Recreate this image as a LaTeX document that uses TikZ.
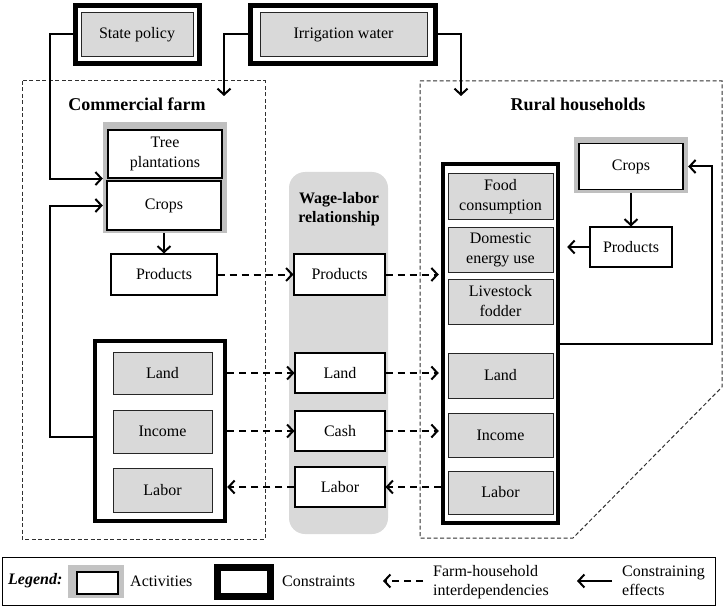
\documentclass[tikz,border=0pt]{standalone}
\usepackage{fontspec}
\setmainfont{Liberation Serif}
\usetikzlibrary{arrows.meta}
\definecolor{framegrey}{HTML}{BFBFBF}
\definecolor{fillgrey}{HTML}{D9D9D9}
\definecolor{dashgrey}{HTML}{303030}
\begin{document}
\begin{tikzpicture}[x=1pt,y=-1pt,font=\fontsize{16}{20}\selectfont,
  box/.style={rectangle, inner sep=0pt, align=center},
  act/.style={box, draw=black, line width=1.1pt, fill=white},
  res/.style={box, draw=black!85, line width=1pt, fill=fillgrey},
  cons/.style={box, draw=black, line width=4.5pt, fill=white},
  frame/.style={box, fill=framegrey},
  area/.style={draw=dashgrey, line width=1pt, dash pattern=on 4pt off 2.5pt},
  ce/.style={draw, line width=2pt, -{Straight Barb[length=6pt,width=13pt,line width=2pt]}},
  fh/.style={draw, line width=2pt, dash pattern=on 7pt off 5pt, -{Straight Barb[length=6pt,width=13pt,line width=2pt]}},
  title/.style={font=\fontsize{18}{21}\selectfont\bfseries}]
\useasboundingbox (0,0) rectangle (723,607);

% areas
\draw[area] (22,81) rectangle (265,539);
\draw[area] (420,81) -- (722,81) -- (722,387) -- (573,538) -- (420,538) -- cycle;
\node[title] (tcf) at (137,104) {Commercial farm};
\node[title] (trh) at (578,104) {Rural households};

% wage-labor column
\node[box, fill=fillgrey, rounded corners=16pt, minimum width=99pt, minimum height=362pt] (wcol) at (338.5,353) {};
\node[box, font=\fontsize{16}{19}\selectfont\bfseries] (wtitle) at (339,209) {Wage-labor\\relationship};

% top constraints
\node[cons, line width=5pt, minimum width=124pt, minimum height=58pt] (spo) at (137.5,34.5) {};
\node[res, minimum width=112pt, minimum height=44pt] (spol) at (137,35) {State policy};
\node[cons, line width=5pt, minimum width=185pt, minimum height=58pt] (irro) at (343,34.5) {};
\node[res, minimum width=167pt, minimum height=44pt] (irr) at (343.5,35) {Irrigation water};

% commercial farm
\node[frame, minimum width=124pt, minimum height=111pt] (grpL) at (165,177.5) {};
\node[act, minimum width=114pt, minimum height=48pt] (tree) at (165,154) {Tree\\plantations};
\node[act, minimum width=114pt, minimum height=49pt] (crops) at (164,205.5) {Crops};
\node[act, minimum width=106pt, minimum height=41pt] (prodL) at (164,274.5) {Products};
\node[cons, minimum width=130pt, minimum height=180pt] (ccons) at (160,431) {};
\node[res, minimum width=99pt, minimum height=42pt] (cland) at (162.5,373) {Land};
\node[res, minimum width=99pt, minimum height=43pt] (cinc) at (162.5,431.5) {Income};
\node[res, minimum width=99pt, minimum height=44pt] (clab) at (162.5,490) {Labor};

% wage-labor boxes
\node[act, minimum width=91pt, minimum height=41pt] (wprod) at (339.5,274.5) {Products};
\node[act, minimum width=90pt, minimum height=40pt] (wland) at (340,373) {Land};
\node[act, minimum width=90pt, minimum height=40pt] (wcash) at (340,431) {Cash};
\node[act, minimum width=90pt, minimum height=40pt] (wlab) at (340,487) {Labor};

% rural households
\node[cons, minimum width=115pt, minimum height=359pt] (rcons) at (500.5,343.5) {};
\node[res, minimum width=105pt, minimum height=45pt] (rfood) at (500.5,196.5) {Food\\consumption};
\node[res, minimum width=105pt, minimum height=45pt] (rener) at (500.5,249.5) {Domestic\\energy use};
\node[res, minimum width=105pt, minimum height=45pt] (rfod) at (500.5,301.5) {Livestock\\fodder};
\node[res, minimum width=105pt, minimum height=45pt] (rland) at (500.5,375.5) {Land};
\node[res, minimum width=105pt, minimum height=44pt] (rinc) at (500.5,435) {Income};
\node[res, minimum width=105pt, minimum height=43pt] (rlab) at (500.5,492.5) {Labor};
\node[frame, minimum width=114pt, minimum height=56pt] (rgrp) at (631,165) {};
\node[act, minimum width=104pt, minimum height=46pt] (rcrops) at (631,166.5) {Crops};
\node[act, minimum width=82pt, minimum height=40pt] (rprod) at (631,247) {Products};

% constraining effects
\draw[ce] (spo.west) -- (50,34.5) |- (grpL.west |- tree.south);
\draw[ce] ([yshift=-6pt]ccons.west) -- (50,437) |- (grpL.west |- crops.center);
\coordinate (irrL) at (224,96);
\coordinate (irrR) at (461,96);
\draw[ce] (irro.west) -| (irrL);
\draw[ce] (irro.east) -| (irrR);
\draw[ce] (grpL.south -| prodL.north) -- (prodL.north);
\draw[ce] (rgrp.south) -- (rprod.north);
\draw[ce, shorten >=7pt] (rprod.west) -- (rprod.west -| rcons.east);
\draw[ce] (rcons.east) -- (712,343.5) |- (rgrp.east |- rcrops.center);

% farm-household interdependencies
\draw[fh] (prodL.east) -- (wprod.west);
\draw[fh, shorten >=2pt] (wprod.east) -- (wprod.east -| rcons.west);
\draw[fh] (ccons.east |- wland.west) -- (wland.west);
\draw[fh, shorten >=2pt] (wland.east) -- (wland.east -| rcons.west);
\draw[fh] (ccons.east |- wcash.west) -- (wcash.west);
\draw[fh, shorten >=2pt] (wcash.east) -- (wcash.east -| rcons.west);
\draw[fh] (rcons.west |- wlab.east) -- (wlab.east);
\draw[fh] (wlab.west) -- (wlab.west -| ccons.east);

% legend
\node[box, draw=black, line width=1.5pt, minimum width=713pt, minimum height=48pt] (legend) at (359,581.5) {};
\node[anchor=west, inner sep=0pt, font=\fontsize{16}{20}\selectfont\bfseries\itshape] (lgt) at (8,581) {Legend:};
\node[frame, fill=fillgrey!90!black, minimum width=56pt, minimum height=33pt] (lgact) at (96,581.5) {};
\node[act, minimum width=41pt, minimum height=22pt] (lgacti) at (97.5,583) {};
\node[anchor=west, inner sep=0pt] (lgactt) at (130,581) {Activities};
\node[cons, line width=7pt, minimum width=53pt, minimum height=29pt] (lgcons) at (244,582) {};
\node[anchor=west, inner sep=0pt] (lgconst) at (282,581) {Constraints};
\coordinate (lgd1) at (423,581);
\coordinate (lgd2) at (383,581);
\draw[fh] (lgd1) -- (lgd2);
\node[anchor=west, inner sep=0pt, align=left, font=\fontsize{16}{19}\selectfont] (lgfh) at (433,582) {Farm-household\\interdependencies};
\coordinate (lgc1) at (612,581);
\coordinate (lgc2) at (577,581);
\draw[ce] (lgc1) -- (lgc2);
\node[anchor=west, inner sep=0pt, align=left, font=\fontsize{16}{19}\selectfont] (lgce) at (622,581) {Constraining\\effects};
\end{tikzpicture}
\end{document}
